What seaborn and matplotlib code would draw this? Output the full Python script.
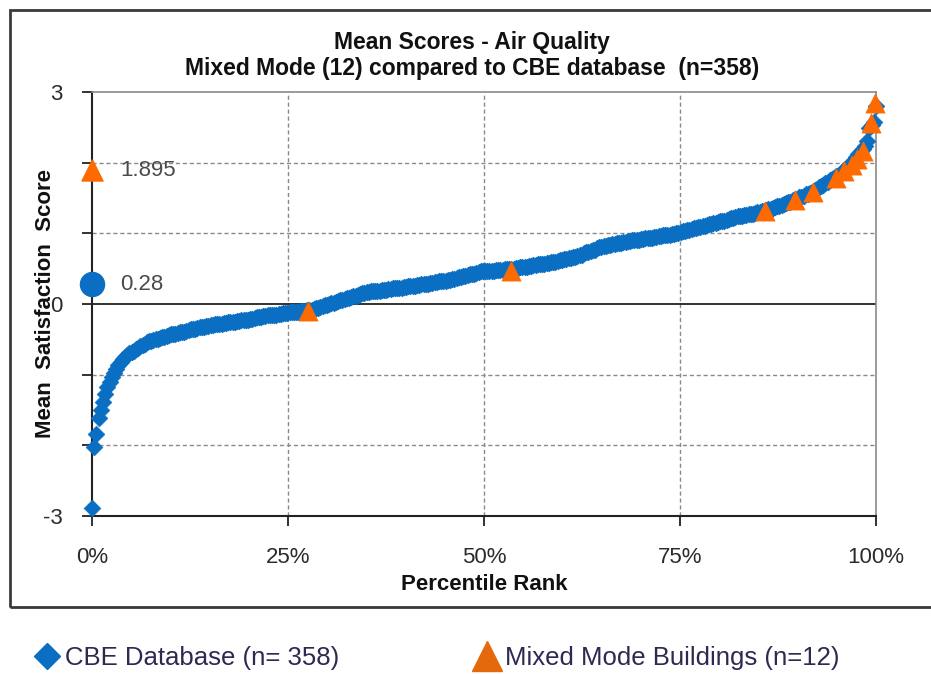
import numpy as np
import pandas as pd
import matplotlib
matplotlib.use("Agg")
import matplotlib.pyplot as plt
import matplotlib.patches as mpatches
from matplotlib.lines import Line2D
import seaborn as sns

# ---------------- data ----------------
cbe_scores = [
    -2.88, -2.02, -1.84, -1.62, -1.50, -1.38, -1.28, -1.17, -1.10, -1.03, -0.98, -0.92, -0.87, -0.82, -0.78, -0.75, -0.72,
    -0.70, -0.68, -0.66, -0.64, -0.62, -0.60, -0.58, -0.56,
    -0.54, -0.53, -0.52, -0.51, -0.50, -0.49, -0.48, -0.47, -0.46, -0.45, -0.44,
    -0.43, -0.43, -0.42, -0.41, -0.40, -0.39, -0.39, -0.38, -0.37, -0.36, -0.35, -0.35, -0.34, -0.33, -0.32,
    -0.32, -0.31, -0.31, -0.30, -0.30, -0.29, -0.29, -0.28, -0.28, -0.27, -0.27, -0.26, -0.26, -0.25, -0.25,
    -0.24, -0.24, -0.23, -0.23, -0.22, -0.22, -0.21, -0.21, -0.20, -0.19, -0.19, -0.18, -0.17, -0.17, -0.16,
    -0.16, -0.15, -0.15, -0.15, -0.14, -0.14, -0.13, -0.13, -0.13, -0.12, -0.12, -0.12, -0.11, -0.11, -0.10, -0.10, -0.10, -0.09, -0.09,
    -0.08, -0.07, -0.06, -0.05, -0.04, -0.03, -0.02, -0.01, 0.00, 0.01, 0.02, 0.03, 0.04, 0.05, 0.06, 0.07, 0.08, 0.09, 0.10,
    0.11, 0.12, 0.13, 0.14, 0.15, 0.16, 0.17,
    0.17, 0.18, 0.18, 0.19, 0.19, 0.19, 0.20, 0.20, 0.20, 0.21, 0.21, 0.22, 0.22, 0.22, 0.23,
    0.23, 0.24, 0.24, 0.25, 0.25, 0.26, 0.26, 0.27, 0.27, 0.28, 0.28, 0.29, 0.29, 0.30, 0.30, 0.31, 0.31, 0.32, 0.32, 0.33,
    0.33, 0.34, 0.34,
    0.35, 0.36, 0.37, 0.38, 0.38, 0.39, 0.40, 0.41, 0.42, 0.42, 0.43, 0.44, 0.45, 0.46,
    0.46, 0.46, 0.47, 0.47, 0.47, 0.47, 0.48, 0.48, 0.48, 0.48, 0.49, 0.49, 0.49,
    0.50, 0.50, 0.51, 0.51, 0.52, 0.52, 0.53, 0.53, 0.54, 0.54, 0.55, 0.55, 0.56, 0.56, 0.57, 0.57, 0.58, 0.58,
    0.59, 0.59, 0.60, 0.61, 0.62, 0.62, 0.63, 0.64, 0.65, 0.65, 0.66, 0.67,
    0.68, 0.69, 0.70, 0.72, 0.73, 0.74, 0.75, 0.76, 0.77, 0.79, 0.80,
    0.81, 0.82, 0.82, 0.83, 0.84, 0.85, 0.85, 0.86, 0.87, 0.87, 0.88, 0.88, 0.89, 0.89, 0.90,
    0.90, 0.91, 0.91, 0.92, 0.92, 0.93, 0.93, 0.94, 0.94, 0.95, 0.95, 0.96, 0.96, 0.97, 0.97, 0.98, 0.98, 0.99, 0.99, 1.00,
    1.01, 1.02,
    1.03, 1.04, 1.05, 1.05, 1.06, 1.07, 1.08, 1.09, 1.09, 1.10, 1.11, 1.12, 1.13, 1.13, 1.14, 1.15, 1.16, 1.17, 1.17, 1.18,
    1.19, 1.20, 1.21, 1.22,
    1.23, 1.24, 1.24, 1.25, 1.26, 1.26, 1.27, 1.28, 1.28, 1.29, 1.30, 1.30, 1.31,
    1.32, 1.33, 1.34, 1.35, 1.36, 1.37, 1.38, 1.39, 1.40, 1.41, 1.43, 1.44, 1.45, 1.47,
    1.48, 1.49, 1.51, 1.52, 1.53, 1.55, 1.56, 1.57, 1.59,
    1.61, 1.63, 1.65, 1.67, 1.69, 1.71, 1.73, 1.75, 1.77, 1.79, 1.81, 1.83,
    1.85, 1.88, 1.91, 1.94, 1.97,
    2.00, 2.04, 2.08, 2.12, 2.16, 2.20,
    2.24, 2.30, 2.49, 2.53, 2.58, 2.80,
]

mm_percentile = [27.6, 53.4, 85.8, 89.7, 92.0, 94.9, 95.9, 96.9, 97.6, 98.3, 99.4, 99.9]
mm_scores = [-0.10, 0.47, 1.31, 1.47, 1.59, 1.78, 1.88, 1.97, 2.05, 2.17, 2.56, 2.84]

mixed_mean = 1.895
cbe_mean = 0.28

title_lines = ["Mean Scores - Air Quality", "Mixed Mode (12) compared to CBE database  (n=358)"]
x_ticks = [0, 25, 50, 75, 100]
x_ticklabels = ["0%", "25%", "50%", "75%", "100%"]
y_ticks = [-3, -2, -1, 0, 1, 2, 3]
y_ticklabels = ["-3", "", "", "0", "", "", "3"]
legend_labels = ["CBE Database (n= 358)", "Mixed Mode Buildings (n=12)"]

# ---------------- styling ----------------
sns.set_theme(style="white")
plt.rcParams["font.family"] = ["Liberation Sans", "DejaVu Sans"]

BLUE = "#0A6FC2"
ORANGE = "#FF6A00"
ORANGE_LEG = "#E4690C"
TXT = "#2b2b2b"
LEGTXT = "#2F2851"

n = len(cbe_scores)
cbe = pd.DataFrame({"score": cbe_scores})
cbe["pct"] = cbe["score"].rank(method="first").sub(1).div(n - 1).mul(100)
mm = pd.DataFrame({"pct": mm_percentile, "score": mm_scores})

fig = plt.figure(figsize=(9.31, 6.74), dpi=100)
ax = fig.add_axes([92 / 931, 1 - 516 / 674, (876 - 92) / 931, (516 - 92) / 674])

# outer chart frame
fig.patches.append(mpatches.Rectangle((10 / 931, 1 - 607 / 674), 1.2, (607 - 10) / 674,
                                      transform=fig.transFigure, fill=False,
                                      edgecolor="#3a3a3a", linewidth=2.0, zorder=0))

ax.set_xlim(0, 100)
ax.set_ylim(-3, 3)

# grid
for yv in [-2, -1, 1, 2]:
    ax.axhline(yv, color="#8a8a8a", lw=1.0, ls=(0, (3, 2)), zorder=1)
for xv in [25, 50, 75]:
    ax.axvline(xv, color="#8a8a8a", lw=1.0, ls=(0, (3, 2)), zorder=1)
ax.axhline(0, color="#222222", lw=1.3, zorder=1.5)

sns.scatterplot(data=cbe, x="pct", y="score", marker="D", s=72, color=BLUE,
                edgecolor=BLUE, linewidth=0.5, ax=ax, zorder=3, legend=False, clip_on=False)
sns.scatterplot(data=mm, x="pct", y="score", marker="^", s=190, color=ORANGE,
                edgecolor=ORANGE, linewidth=0.5, ax=ax, zorder=4, legend=False, clip_on=False)

# mean markers at the axis
ax.scatter([0], [mixed_mean], marker="^", s=230, color=ORANGE, zorder=5, clip_on=False)
ax.scatter([0], [cbe_mean], marker="o", s=300, color=BLUE, zorder=5, clip_on=False)
ax.annotate(f"{mixed_mean}", xy=(0, mixed_mean), xytext=(28, 0), textcoords="offset pixels",
            va="center", ha="left", fontsize=16, color="#4a4a4a")
ax.annotate(f"{cbe_mean}", xy=(0, cbe_mean), xytext=(28, 0), textcoords="offset pixels",
            va="center", ha="left", fontsize=16, color="#4a4a4a")

# spines
for s in ["left", "bottom"]:
    ax.spines[s].set_color("#222222")
    ax.spines[s].set_linewidth(1.5)
for s in ["top", "right"]:
    ax.spines[s].set_color("#8a8a8a")
    ax.spines[s].set_linewidth(1.2)
    ax.spines[s].set_visible(True)

ax.set_xticks(x_ticks)
ax.set_xticklabels(x_ticklabels)
ax.set_yticks(y_ticks)
ax.set_yticklabels(y_ticklabels)
ax.tick_params(axis="x", direction="out", length=7, width=1.3, color="#222222",
               pad=15, labelsize=16, labelcolor=TXT, bottom=True)
ax.tick_params(axis="y", direction="out", length=7, width=1.3, color="#222222",
               pad=14, labelsize=16, labelcolor=TXT, left=True)

ax.set_xlabel("Percentile Rank", fontsize=16, fontweight="bold", color="#111111", labelpad=2)
ax.set_ylabel("Mean  Satisfaction  Score", fontsize=16, fontweight="bold", color="#111111")
ax.yaxis.set_label_coords(-36 / 784, 0.5)
ax.xaxis.set_label_coords(0.5, -58 / 424)

fig.text(472 / 931, 1 - 42 / 674, title_lines[0], ha="center", va="center",
         fontsize=16.5, fontweight="bold", color="#111111")
fig.text(472 / 931, 1 - 68 / 674, title_lines[1], ha="center", va="center",
         fontsize=16.5, fontweight="bold", color="#111111")

# legend below the frame
handles = [
    Line2D([], [], marker="D", color=BLUE, linestyle="none", markersize=13),
    Line2D([], [], marker="^", color=ORANGE_LEG, linestyle="none", markersize=21),
]
leg = fig.legend(handles, legend_labels, loc="center left", bbox_to_anchor=(19 / 931, 1 - 658 / 674),
                 ncol=2, frameon=False, fontsize=18.5, handletextpad=0.1, columnspacing=5.15,
                 handlelength=1.2, borderpad=0)
for t in leg.get_texts():
    t.set_color(LEGTXT)

fig.savefig("out.png", dpi=100)
